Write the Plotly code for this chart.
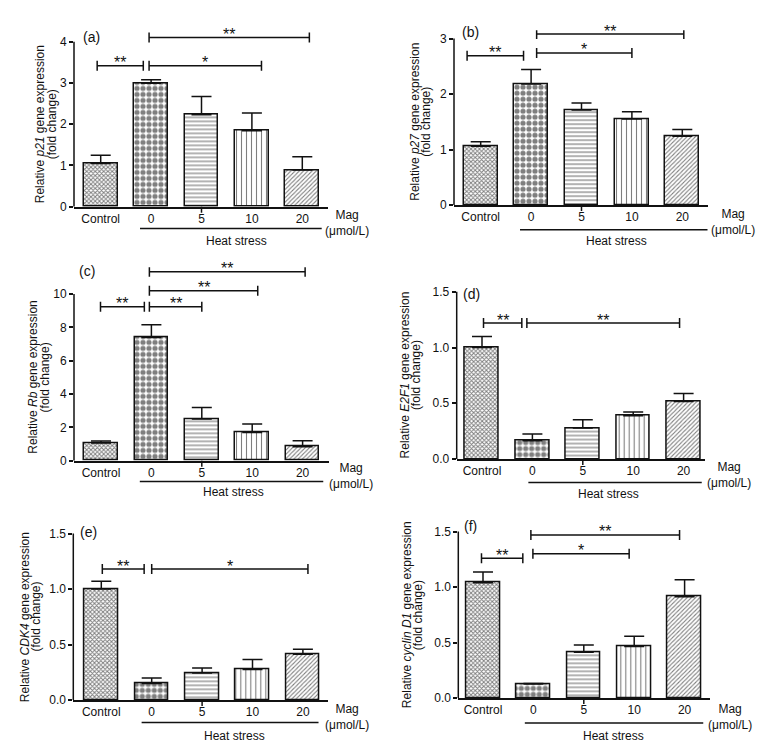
import plotly.graph_objects as go

# ---------------- data ----------------
categories = ["Control", "0", "5", "10", "20"]

p21_mean = [1.05, 2.99, 2.23, 1.84, 0.89]
p21_err = [0.20, 0.09, 0.44, 0.43, 0.32]
p27_mean = [1.06, 2.18, 1.71, 1.55, 1.24]
p27_err = [0.08, 0.26, 0.13, 0.13, 0.12]
rb_mean = [1.06, 7.40, 2.50, 1.70, 0.84]
rb_err = [0.12, 0.76, 0.70, 0.50, 0.36]
e2f1_mean = [1.00, 0.164, 0.278, 0.388, 0.517]
e2f1_err = [0.10, 0.06, 0.075, 0.035, 0.07]
cdk4_mean = [1.00, 0.15, 0.243, 0.276, 0.414]
cdk4_err = [0.07, 0.05, 0.045, 0.09, 0.045]
ccnd1_mean = [1.04, 0.126, 0.414, 0.465, 0.913]
ccnd1_err = [0.095, 0.005, 0.065, 0.093, 0.153]

genes = ["p21", "p27", "Rb", "E2F1", "CDK4", "cyclin D1"]
panel_labels = ["(a)", "(b)", "(c)", "(d)", "(e)", "(f)"]
means = [p21_mean, p27_mean, rb_mean, e2f1_mean, cdk4_mean, ccnd1_mean]
errs = [p21_err, p27_err, rb_err, e2f1_err, cdk4_err, ccnd1_err]

# significance brackets: (from, to, level, label)
sig_a = [(-0.07, 0.845, 3.42, "**"), (0.96, 3.19, 3.42, "*"), (0.96, 4.14, 4.10, "**")]
sig_b = [(-0.27, 0.85, 2.69, "**"), (1.11, 3.0, 2.74, "*"), (1.11, 4.03, 3.08, "**")]
sig_c = [(-0.01, 0.86, 9.24, "**"), (0.96, 2.0, 9.24, "**"), (0.96, 3.11, 10.2, "**"),
         (0.96, 4.05, 11.34, "**")]
sig_d = [(0.03, 0.79, 1.22, "**"), (0.89, 3.92, 1.22, "**")]
sig_e = [(0.02, 0.85, 1.18, "**"), (1.0, 4.1, 1.18, "*")]
sig_f = [(-0.03, 0.79, 1.26, "**"), (0.99, 2.9, 1.30, "*"), (0.95, 3.9, 1.47, "**")]
sigs = [sig_a, sig_b, sig_c, sig_d, sig_e, sig_f]

yticks_a = [0, 1, 2, 3, 4]
yticks_b = [0, 1, 2, 3]
yticks_c = [0, 2, 4, 6, 8, 10]
yticks_d = [0, 0.5, 1.0, 1.5]
yticks_e = [0, 0.5, 1.0, 1.5]
yticks_f = [0, 0.5, 1.0, 1.5]
yticks = [yticks_a, yticks_b, yticks_c, yticks_d, yticks_e, yticks_f]

# ---------------- layout / style (pixel geometry) ----------------
W, H = 774, 756
SP = 50.4  # px between categories
cfg = [
    dict(L=74, c0=100.7, R=328, y0=206, ppu=41.25, ytop=4.25, fmt="d",
         t1=-34, t2=-22, lab=(91.5, 36.7), heat=(0.78, 4.385, 21.7), hs=(2.70, 34), mag=(4.89, 16)),
    dict(L=454, c0=480.7, R=708, y0=204.3, ppu=55.5, ytop=3.15, fmt="d",
         t1=-39, t2=-28, lab=(470, 31.7), heat=(0.78, 4.5, 24.7), hs=(2.70, 36.4), mag=(5.0, 17)),
    dict(L=74, c0=101, R=329, y0=460, ppu=16.67, ytop=11.6, fmt="d",
         t1=-40.7, t2=-29, lab=(86.5, 270), heat=(0.77, 4.41, 20.7), hs=(2.63, 31.7), mag=(4.97, 15)),
    dict(L=456.7, c0=482, R=705, y0=458.3, ppu=111.5, ytop=1.52, fmt=".1f",
         t1=-51.7, t2=-40, lab=(471.5, 293.3), heat=(0.92, 4.36, 23.4), hs=(2.5, 35), mag=(4.9, 16)),
    dict(L=73.3, c0=101.3, R=328, y0=699.3, ppu=111, ytop=1.52, fmt=".1f",
         t1=-48, t2=-37.6, lab=(88.5, 531.7), heat=(0.80, 4.31, 22.4), hs=(2.65, 35.7), mag=(4.87, 17)),
    dict(L=458.3, c0=483, R=710, y0=697.3, ppu=111, ytop=1.52, fmt=".1f",
         t1=-51, t2=-40, lab=(470.5, 525), heat=(0.83, 4.37, 25), hs=(2.58, 38.4), mag=(4.9, 19)),
]

# vertical correction observed for the capture (page y -> picture y)
VA, VB = 0.984, 4.3

FONT = "Liberation Sans, Arial, sans-serif"
INK = "#111111"
pat_shape = ["x", ".", "-", "|", "/"]
pat_size = [3, 6, 4, 5, 3]
pat_solid = [0.55, 0.6, 0.3, 0.22, 0.35]

fig = go.Figure()
shapes, annos = [], []

def py(px):
    return 1 - ((px - VB) / VA) / H

for i, c in enumerate(cfg):
    n = i + 1
    xa = "x" if n == 1 else f"x{n}"
    ya = "y" if n == 1 else f"y{n}"
    xkey = "xaxis" if n == 1 else f"xaxis{n}"
    ykey = "yaxis" if n == 1 else f"yaxis{n}"
    xs = list(range(len(categories)))

    fig.add_trace(go.Bar(
        x=xs, y=means[i], width=0.67, xaxis=xa, yaxis=ya,
        marker=dict(color="white", line=dict(color=INK, width=1.5),
                    pattern=dict(shape=pat_shape, size=pat_size, solidity=pat_solid,
                                 fgcolor="black", bgcolor="white")),
        error_y=dict(type="data", symmetric=False, array=errs[i],
                     arrayminus=[0] * len(categories), color=INK, thickness=1.5, width=10),
        showlegend=False, hoverinfo="skip",
    ))

    xr = [(c["L"] - c["c0"]) / SP, (c["R"] - c["c0"]) / SP]
    ybot = py(c["y0"])
    ytopd = py(c["y0"] - c["ytop"] * c["ppu"])
    fig.layout[xkey] = dict(domain=[c["L"] / W, c["R"] / W], range=xr, anchor=ya,
                            showline=True, linecolor=INK, linewidth=1.5, ticks="",
                            tickvals=xs, ticktext=categories, showgrid=False, zeroline=False,
                            tickfont=dict(size=12, color=INK, family=FONT), fixedrange=True)
    fig.layout[ykey] = dict(domain=[ybot, ytopd], range=[0, c["ytop"]], anchor=xa,
                            showline=False, ticks="outside", ticklen=4, tickwidth=1.5,
                            tickcolor=INK, tickvals=yticks[i], tickformat=c["fmt"],
                            showgrid=False, zeroline=False,
                            tickfont=dict(size=12, color=INK, family=FONT), fixedrange=True)

    # y axis line stopping at the last tick
    shapes.append(dict(type="line", xref=f"{xa} domain", yref=ya, x0=0, x1=0,
                       y0=0, y1=yticks[i][-1], line=dict(color=INK, width=1.5)))
    # small x tick at the middle category
    shapes.append(dict(type="line", xref=xa, yref=f"{ya} domain", ysizemode="pixel",
                       yanchor=0, x0=2, x1=2, y0=-6, y1=0, line=dict(color=INK, width=1.5)))

    # significance brackets
    for (a0, a1, lev, lab) in sigs[i]:
        shapes.append(dict(type="line", xref=xa, yref=ya, x0=a0, x1=a1, y0=lev, y1=lev,
                           line=dict(color=INK, width=1.5)))
        for xe in (a0, a1):
            shapes.append(dict(type="line", xref=xa, yref=ya, ysizemode="pixel", yanchor=lev,
                               x0=xe, x1=xe, y0=-5, y1=5, line=dict(color=INK, width=1.5)))
        annos.append(dict(xref=xa, yref=ya, x=(a0 + a1) / 2, y=lev, text=lab, showarrow=False,
                          xanchor="center", yanchor="middle", yshift=3,
                          font=dict(size=16, color=INK, family=FONT)))

    # heat stress line + labels
    hx0, hx1, hoff = c["heat"]
    shapes.append(dict(type="line", xref=xa, yref="paper", x0=hx0, x1=hx1,
                       y0=py(c["y0"] + hoff), y1=py(c["y0"] + hoff),
                       line=dict(color=INK, width=1.5)))
    annos.append(dict(xref=xa, yref="paper", x=c["hs"][0], y=py(c["y0"] + c["hs"][1]),
                      text="Heat stress", showarrow=False, xanchor="center", yanchor="middle",
                      font=dict(size=12, color=INK, family=FONT)))
    annos.append(dict(xref="paper", yref="paper", x=(c["c0"] + c["mag"][0] * SP) / W,
                      y=py(c["y0"] + c["mag"][1]),
                      text="Mag<br>(μmol/L)", showarrow=False, xanchor="center", yanchor="middle",
                      align="center", font=dict(size=12, color=INK, family=FONT)))

    # y titles
    ymid = py(c["y0"] - yticks[i][-1] * c["ppu"] / 2)
    annos.append(dict(xref="paper", yref="paper", x=(c["L"] + c["t1"]) / W, y=ymid,
                      text=f"Relative <i>{genes[i]}</i> gene expression", textangle=-90,
                      showarrow=False, xanchor="center", yanchor="middle",
                      font=dict(size=12, color=INK, family=FONT)))
    annos.append(dict(xref="paper", yref="paper", x=(c["L"] + c["t2"]) / W, y=ymid,
                      text="(fold change)", textangle=-90,
                      showarrow=False, xanchor="center", yanchor="middle",
                      font=dict(size=12, color=INK, family=FONT)))
    # panel label
    annos.append(dict(xref="paper", yref="paper", x=c["lab"][0] / W, y=py(c["lab"][1]),
                      text=panel_labels[i], showarrow=False, xanchor="center", yanchor="middle",
                      font=dict(size=14, color=INK, family=FONT)))

fig.update_layout(width=W, height=H, margin=dict(l=0, r=0, t=0, b=0),
                  paper_bgcolor="white", plot_bgcolor="white", showlegend=False,
                  bargap=0, shapes=shapes, annotations=annos,
                  font=dict(family=FONT, color=INK))

fig.write_html("out.html", config={"displayModeBar": False},
               post_script="document.body.style.margin='0px';")
